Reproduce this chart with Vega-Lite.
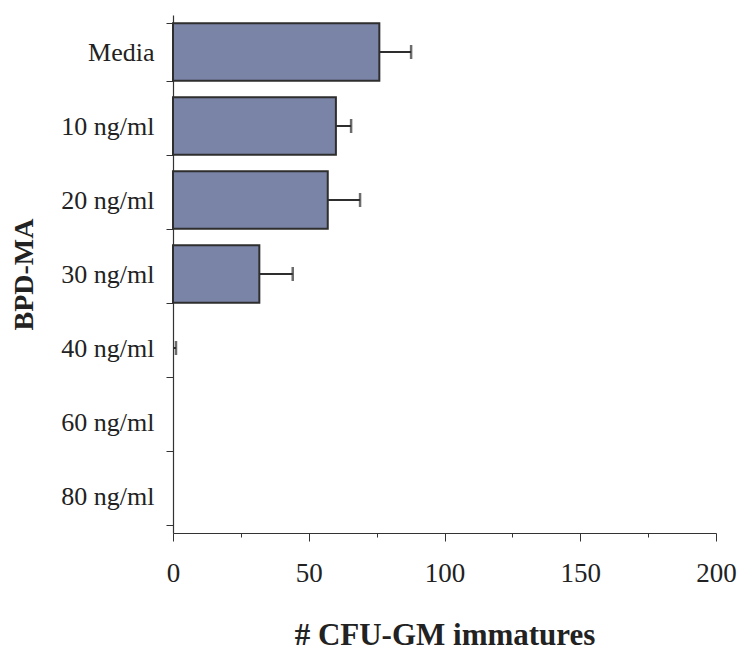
{
  "$schema": "https://vega.github.io/schema/vega-lite/v6.json",
  "autosize": "none",
  "width": 543,
  "height": 518,
  "padding": {"left": 173, "top": 15, "right": 25, "bottom": 123},
  "background": "white",
  "config": {
    "view": {"stroke": null},
    "font": "Liberation Serif"
  },
  "data": {
    "values": [
      {"dose": "Media", "mean": 76, "upper": 87.7},
      {"dose": "10 ng/ml", "mean": 60, "upper": 65.6},
      {"dose": "20 ng/ml", "mean": 57, "upper": 68.9},
      {"dose": "30 ng/ml", "mean": 31.8, "upper": 44.1},
      {"dose": "40 ng/ml", "mean": 0.3, "upper": 1.1},
      {"dose": "60 ng/ml", "mean": 0, "upper": 0},
      {"dose": "80 ng/ml", "mean": 0, "upper": 0}
    ]
  },
  "encoding": {
    "y": {
      "field": "dose",
      "type": "nominal",
      "sort": null,
      "scale": {
        "domain": ["Media", "10 ng/ml", "20 ng/ml", "30 ng/ml", "40 ng/ml", "60 ng/ml", "80 ng/ml"],
        "paddingInner": 0.22,
        "paddingOuter": 0.11
      },
      "axis": {
        "title": "BPD-MA",
        "titleFont": "Liberation Serif",
        "titleFontSize": 28,
        "titleFontWeight": "bold",
        "titleColor": "#222",
        "titlePadding": 22,
        "labelFont": "Liberation Serif",
        "labelFontSize": 26,
        "labelColor": "#222",
        "labelPadding": 12,
        "tickBand": "extent",
        "tickSize": 7,
        "tickColor": "#333",
        "domainColor": "#333",
        "domainWidth": 1.2
      }
    }
  },
  "layer": [
    {
      "mark": {"type": "bar", "fill": "#7a84a6", "stroke": "#2e2e2e", "strokeWidth": 2},
      "transform": [{"filter": "datum.mean > 0.5"}],
      "encoding": {
        "x": {
          "field": "mean",
          "type": "quantitative",
          "scale": {"domain": [0, 200], "nice": false},
          "axis": {
            "title": "# CFU-GM immatures",
            "titleFont": "Liberation Serif",
            "titleFontSize": 31,
            "titleFontWeight": "bold",
            "titleColor": "#222",
            "titlePadding": 34,
            "values": [0, 25, 50, 75, 100, 125, 150, 175, 200],
            "labelExpr": "datum.value % 50 === 0 ? datum.label : ''",
            "labelFont": "Liberation Serif",
            "labelFontSize": 27,
            "labelColor": "#222",
            "labelPadding": 19,
            "labelFlush": false,
            "tickSize": {"condition": {"test": "datum.value % 50 === 0", "value": 8}, "value": 4},
            "tickColor": "#333",
            "domainColor": "#333",
            "domainWidth": 1.2,
            "grid": false
          }
        }
      }
    },
    {
      "mark": {"type": "rule", "color": "#2e2e2e", "strokeWidth": 2},
      "transform": [{"filter": "datum.upper > 0"}],
      "encoding": {
        "x": {"field": "mean", "type": "quantitative"},
        "x2": {"field": "upper"}
      }
    },
    {
      "mark": {"type": "tick", "color": "#2e2e2e", "thickness": 2.5, "size": 14, "orient": "vertical"},
      "transform": [{"filter": "datum.upper > 0"}],
      "encoding": {
        "x": {"field": "upper", "type": "quantitative"}
      }
    }
  ]
}
